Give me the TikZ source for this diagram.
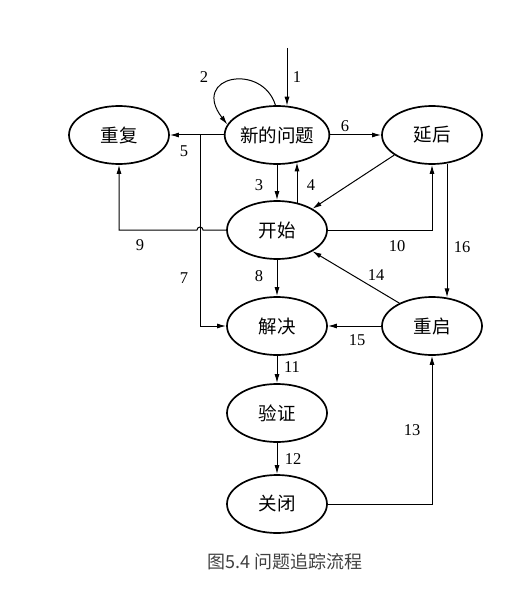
\documentclass[tikz,border=0pt]{standalone}
\usepackage{fontspec}
\setmainfont{Liberation Serif}
\newfontfamily\cjk{Noto Sans CJK SC}
\usetikzlibrary{arrows.meta,calc,shapes.geometric}
\begin{document}
\begin{tikzpicture}[x=1pt,y=-1pt,
  state/.style={ellipse,draw,line width=1.7pt,minimum width=100pt,minimum height=58pt,inner sep=0pt,font=\cjk\fontsize{18.5}{18.5}\selectfont},
  arr/.style={line width=1pt,-{Latex[length=9pt,width=5pt]}},
  lbl/.style={font=\fontsize{16.5}{16.5}\selectfont,inner sep=0pt}]
\useasboundingbox (0,0) rectangle (525,596);
\node[state] (nq) at (277,135) {新的问题};
\node[state] (cf) at (119,135) {重复};
\node[state] (yh) at (432,135) {延后};
\node[state] (ks) at (277,230) {开始};
\node[state] (jj) at (277,326) {解决};
\node[state] (cq) at (432,326) {重启};
\node[state] (yz) at (277,413) {验证};
\node[state] (gb) at (277,504) {关闭};
\coordinate (top) at (287,48);
\coordinate (j7) at (200,135);
% 1
\draw[arr] (top) -- ($(top |- nq.north)+(0,0.6)$);
% 2
\draw[arr] (nq.93) .. controls (262,62) and (190,76) .. (nq.168);
% 3, 4
\draw[arr] (nq.south) -- (ks.north);
\draw[arr] ($(ks.north)+(20,2.4)$) -- ($(nq.south)+(20,-2.4)$);
% 5, 6
\draw[arr] (nq.west) -- (cf.east);
\draw[arr] (nq.east) -- (yh.west);
% 7
\draw[arr] (j7) |- (jj.west);
% 9 (hops over 7)
\draw[arr] (ks.west) -- (203,230) arc[start angle=0,end angle=180,radius=3pt] -- (119,230) -- (cf.south);
% 10
\draw[arr] (ks.east) -| (yh.south);
% delay -> start
\draw[arr] (yh.208) -- (ks.31);
% 8, 11, 12
\draw[arr] (ks.south) -- (jj.north);
\draw[arr] (jj.south) -- (yz.north);
\draw[arr] (yz.south) -- (gb.north);
% 13
\draw[arr] (gb.east) -| (cq.south);
% 14
\draw[arr] (cq.145) -- (ks.-31);
% 15
\draw[arr] (cq.west) -- (jj.east);
% 16
\draw[arr] ($(yh.south)+(15,-1.3)$) -- ($(cq.north)+(15,1.3)$);
% labels
\node[lbl] (l1) at (297,77) {1};
\node[lbl] (l2) at (204,77) {2};
\node[lbl] (l3) at (259,185) {3};
\node[lbl] (l4) at (311,185) {4};
\node[lbl] (l5) at (184,151) {5};
\node[lbl] (l6) at (345,126) {6};
\node[lbl] (l7) at (184,278) {7};
\node[lbl] (l8) at (259,276) {8};
\node[lbl] (l9) at (140,245) {9};
\node[lbl] (l10) at (397,246) {10};
\node[lbl] (l11) at (292,367) {11};
\node[lbl] (l12) at (293,459) {12};
\node[lbl] (l13) at (412,430) {13};
\node[lbl] (l14) at (376,275) {14};
\node[lbl] (l15) at (357,340) {15};
\node[lbl] (l16) at (462,247) {16};
\node[font=\cjk\fontsize{18}{18}\selectfont,text=black!75] (cap) at (285,562) {图5.4 问题追踪流程};
\end{tikzpicture}
\end{document}
